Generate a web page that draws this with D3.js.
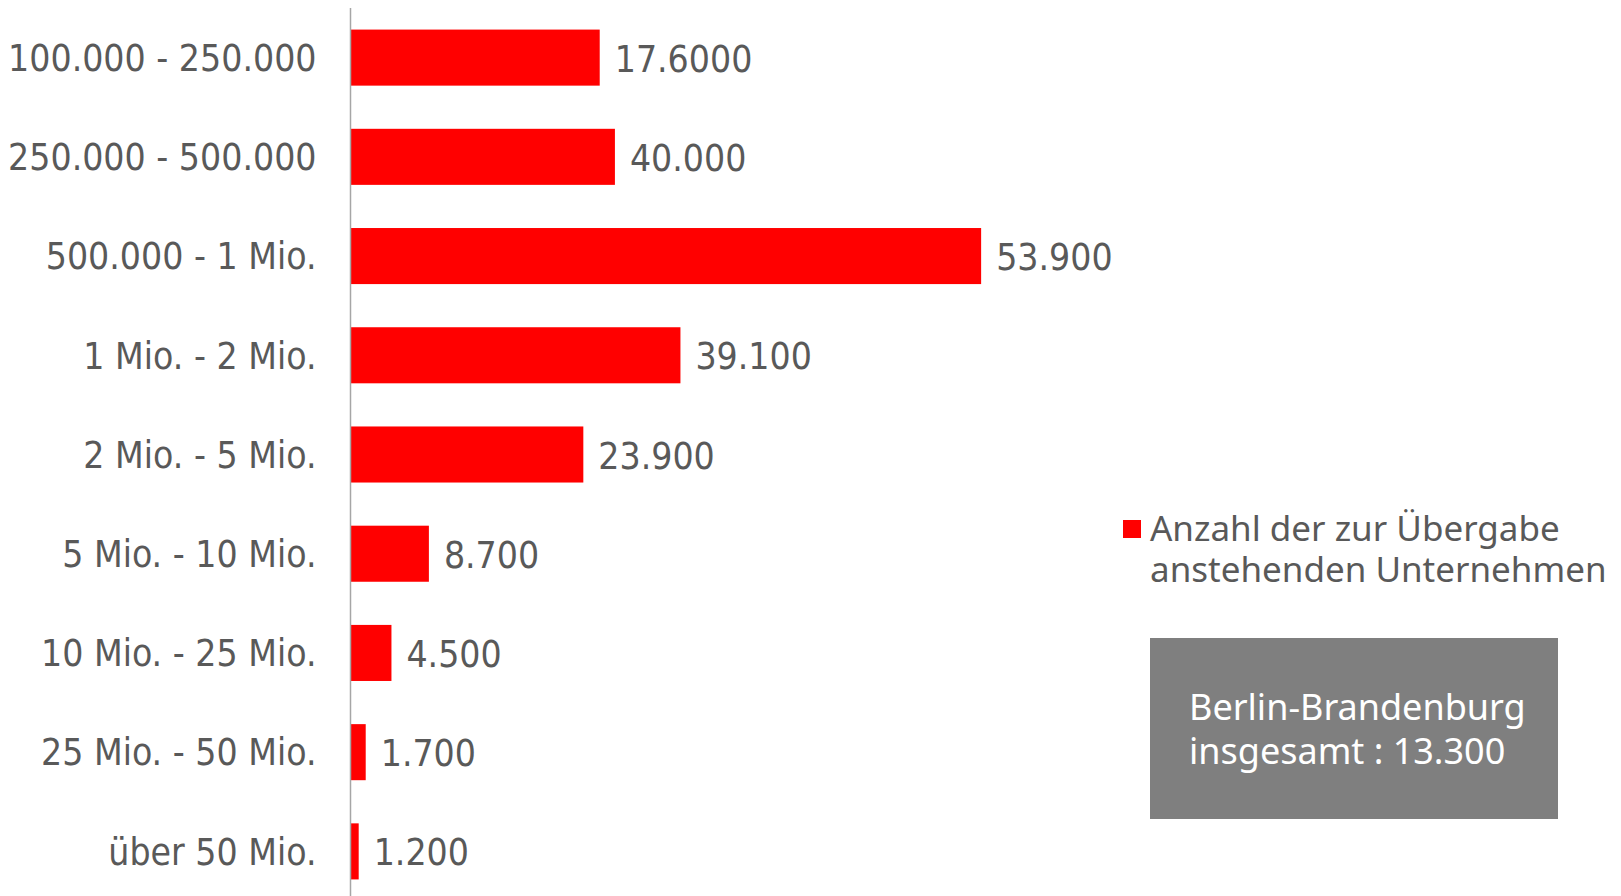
<!DOCTYPE html>
<html>
<head>
<meta charset="utf-8">
<script src="https://cdn.jsdelivr.net/npm/d3@7"></script>
<style>
    body { margin: 0; background: #fff; }
    svg { display: block; }
</style>
</head>
<body>
<div id="chart"></div>
<script>
// categories (company size classes) and values
const categories = ["100.000 - 250.000", "250.000 - 500.000", "500.000 - 1 Mio.", "1 Mio. - 2 Mio.",
    "2 Mio. - 5 Mio.", "5 Mio. - 10 Mio.", "10 Mio. - 25 Mio.", "25 Mio. - 50 Mio.", "über 50 Mio."];
// bar lengths as drawn
const barValues = [21.3, 22.6, 53.9, 28.2, 19.9, 6.7, 3.5, 1.3, 0.7];
// data labels as printed on the chart
const valueLabels = ["17.6000", "40.000", "53.900", "39.100", "23.900", "8.700", "4.500", "1.700", "1.200"];
const legendLines = ["Anzahl der zur Übergabe", "anstehenden Unternehmen"];
const totalLines = ["Berlin-Brandenburg", "insgesamt : 13.300"];

const width = 1621, height = 896;
const axisX = 350.5;

const svg = d3.select("#chart").append("svg")
    .attr("width", width)
    .attr("height", height);

const x = d3.scaleLinear()
    .domain([0, 100])
    .range([axisX, axisX + 1170]);

const y = d3.scaleBand()
    .domain(categories)
    .range([8, 901])
    .paddingInner(0.435)
    .paddingOuter(0.2175);

// bars
svg.selectAll(".bar")
    .data(categories)
    .enter()
    .append("rect")
    .attr("class", "bar")
    .attr("x", x(0))
    .attr("y", d => y(d))
    .attr("width", (d, i) => x(barValues[i]) - x(0))
    .attr("height", y.bandwidth())
    .attr("fill", "#ff0000");

// y axis (labels only, the line is drawn separately)
const yAxis = d3.axisLeft(y).tickSize(0).tickPadding(34);
const gy = svg.append("g")
    .attr("transform", "translate(" + axisX + ",0)")
    .call(yAxis);
gy.select(".domain").remove();
gy.selectAll("text")
    .attr("fill", "#595959")
    .attr("dy", "0.36em")
    .style("font-family", "'DejaVu Sans Condensed', 'DejaVu Sans', sans-serif")
    .style("font-stretch", "condensed")
    .style("font-size", "37px");

svg.append("line")
    .attr("x1", axisX).attr("x2", axisX)
    .attr("y1", 8).attr("y2", height)
    .attr("stroke", "#a6a6a6")
    .attr("stroke-width", 1.5);

// value labels
svg.selectAll(".val")
    .data(categories)
    .enter()
    .append("text")
    .attr("class", "val")
    .attr("x", (d, i) => x(barValues[i]) + 15)
    .attr("y", d => y(d) + y.bandwidth() / 2)
    .attr("dy", "0.38em")
    .attr("fill", "#595959")
    .style("font-family", "'DejaVu Sans Condensed', 'DejaVu Sans', sans-serif")
    .style("font-stretch", "condensed")
    .style("font-size", "37px")
    .text((d, i) => valueLabels[i]);

// legend
svg.append("rect")
    .attr("x", 1123).attr("y", 520)
    .attr("width", 18).attr("height", 18)
    .attr("fill", "#ff0000");

svg.append("text")
    .attr("x", 1150).attr("y", 541)
    .attr("fill", "#595959")
    .style("font-family", "'Noto Sans', sans-serif")
    .style("font-size", "35px")
    .selectAll("tspan")
    .data(legendLines)
    .enter()
    .append("tspan")
    .attr("x", 1150)
    .attr("dy", (d, i) => i === 0 ? 0 : 41)
    .text(d => d);

// total box
svg.append("rect")
    .attr("x", 1150).attr("y", 638)
    .attr("width", 408).attr("height", 181)
    .attr("fill", "#7f7f7f");

svg.append("text")
    .attr("x", 1189).attr("y", 720)
    .attr("fill", "#ffffff")
    .style("font-family", "'Noto Sans', sans-serif")
    .style("font-size", "36px")
    .selectAll("tspan")
    .data(totalLines)
    .enter()
    .append("tspan")
    .attr("x", 1189)
    .attr("dy", (d, i) => i === 0 ? 0 : 44)
    .text(d => d);
</script>
</body>
</html>
